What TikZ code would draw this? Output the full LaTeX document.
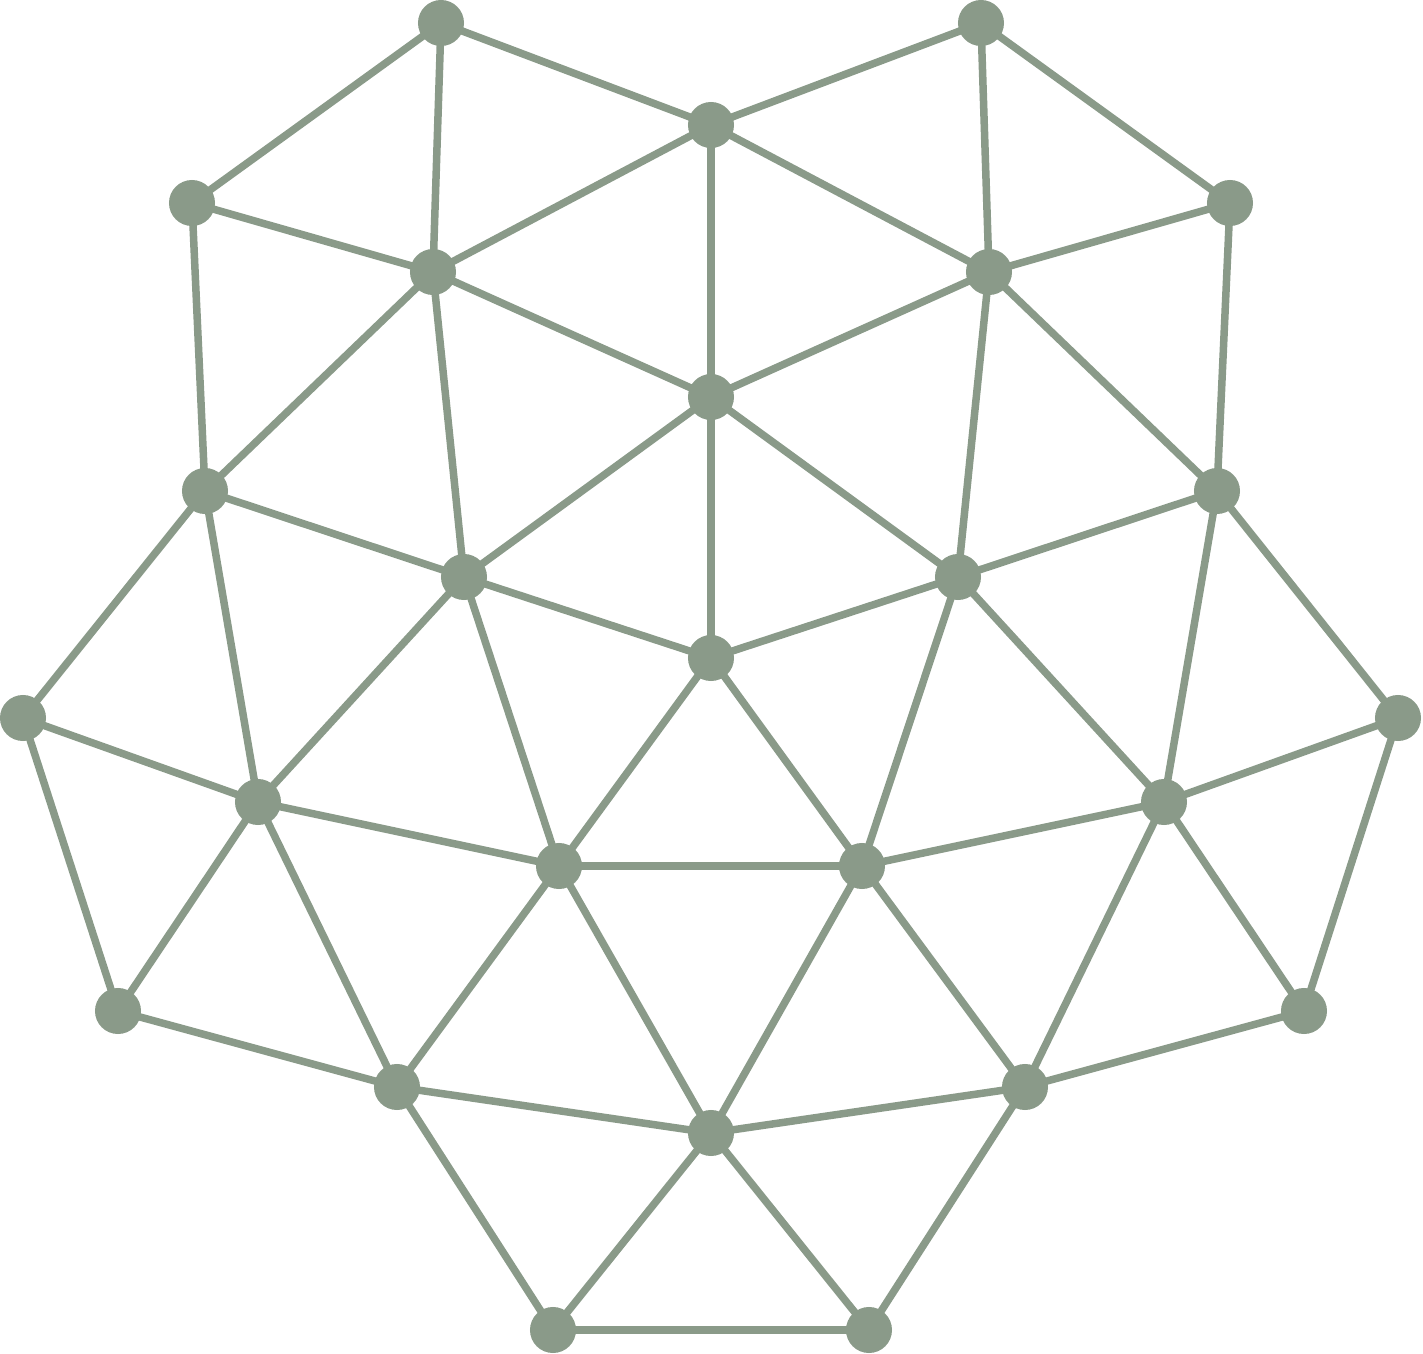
\documentclass[tikz,border=0pt]{standalone}
\definecolor{sage}{HTML}{8A9A89}
\tikzset{
  vert/.style={circle,fill=sage,inner sep=0pt,minimum size=0.46cm},
  edge/.style={draw=sage,line width=0.075cm}
}
\begin{document}
\begin{tikzpicture}[x=0.01cm,y=-0.01cm]
\useasboundingbox (0,0) rectangle (1423,1354);
\coordinate (A) at (441,23);
\coordinate (B) at (981,23);
\coordinate (C) at (711,125);
\coordinate (D) at (192,203);
\coordinate (E) at (1230,203);
\coordinate (F) at (433,272);
\coordinate (G) at (989,272);
\coordinate (H) at (711,397);
\coordinate (I) at (205,491);
\coordinate (J) at (1217,491);
\coordinate (K) at (464,577);
\coordinate (L) at (958,577);
\coordinate (M) at (711,658);
\coordinate (N) at (23,718);
\coordinate (O) at (1398,718);
\coordinate (P) at (258,802);
\coordinate (Q) at (1164,802);
\coordinate (R) at (559,866);
\coordinate (S) at (862,866);
\coordinate (T) at (118,1011);
\coordinate (U) at (1304,1011);
\coordinate (V) at (397,1087);
\coordinate (W) at (1025,1087);
\coordinate (X) at (711,1133);
\coordinate (Y) at (553,1330);
\coordinate (Z) at (869,1330);
\foreach \a/\b in {A/C,A/D,A/F,B/C,B/E,B/G,C/F,C/G,C/H,D/F,D/I,E/G,E/J,
  F/H,F/I,F/K,G/H,G/J,G/L,H/K,H/L,H/M,I/K,I/N,I/P,J/L,J/O,J/Q,
  K/M,K/P,K/R,L/M,L/S,L/Q,M/R,M/S,N/P,N/T,O/Q,O/U,P/R,P/T,P/V,
  Q/S,Q/U,Q/W,R/S,R/V,R/X,S/W,S/X,T/V,U/W,V/X,V/Y,W/X,W/Z,X/Y,X/Z,Y/Z}
  \draw[edge] (\a) -- (\b);
\foreach \n in {A,B,C,D,E,F,G,H,I,J,K,L,M,N,O,P,Q,R,S,T,U,V,W,X,Y,Z}
  \node[vert] (n\n) at (\n) {};
\end{tikzpicture}
\end{document}
